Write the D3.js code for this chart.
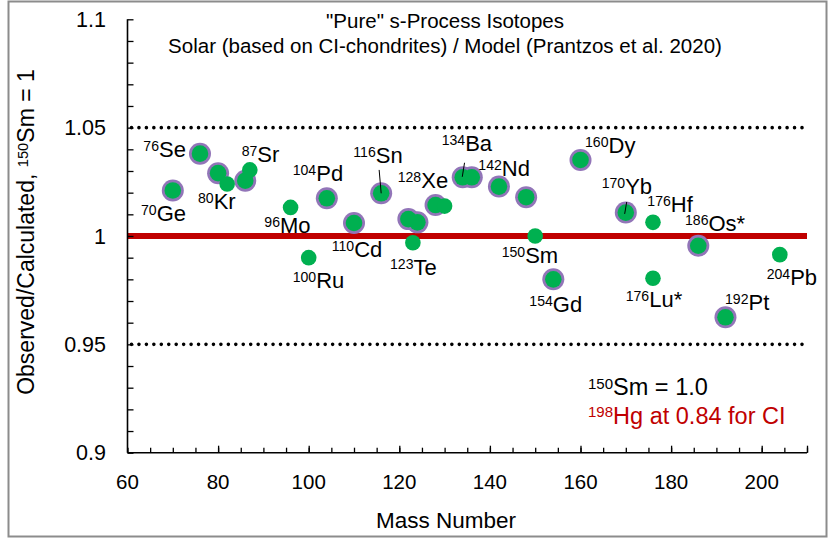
<!DOCTYPE html>
<html>
<head>
<meta charset="utf-8">
<script src="https://cdn.jsdelivr.net/npm/d3@7"></script>
<style>
  html, body { margin: 0; padding: 0; background: #fff; }
  svg text { font-family: "Liberation Sans", Arial, sans-serif; }
</style>
</head>
<body>
<svg id="chart" width="836" height="542"></svg>
<script>
// Isotopes whose markers carry the purple ring
const ringMass  = [70, 76, 80, 86, 104, 110, 116, 122, 124, 128, 134, 136, 142, 148, 154, 160, 170, 186, 192];
const ringRatio = [1.021, 1.038, 1.029, 1.0255, 1.0174, 1.006, 1.0197, 1.0078, 1.0063, 1.0143, 1.0271, 1.0271,
                   1.0228, 1.0179, 0.980, 1.0351, 1.0108, 0.9955, 0.9625];

// Isotopes drawn as plain green markers
const plainMass  = [82, 87, 96, 100, 123, 130, 150, 176, 176, 204];
const plainRatio = [1.024, 1.0305, 1.0132, 0.990, 0.9969, 1.0138, 1.000, 1.0063, 0.9805, 0.9914];

// Isotope labels: mass number (superscript) and element symbol
const labelMass   = ["70", "76", "80", "87", "96", "100", "104", "110", "116", "123", "128", "134", "142",
                     "150", "154", "160", "170", "176", "186", "176", "192", "204"];
const labelSymbol = ["Ge", "Se", "Kr", "Sr", "Mo", "Ru", "Pd", "Cd", "Sn", "Te", "Xe", "Ba", "Nd",
                     "Sm", "Gd", "Dy", "Yb", "Hf", "Os*", "Lu*", "Pt", "Pb"];
// Where each label sits, in axis units (mass, ratio) of its left edge / baseline
const labelAt = [[62.98, 1.0069], [63.49, 1.0365], [75.56, 1.0125], [85.21, 1.0343], [90.2, 1.0012],
                 [96.47, 0.9759], [96.47, 1.0254], [105.08, 0.9903], [109.85, 1.0338], [117.95, 0.982],
                 [119.65, 1.022], [129.36, 1.0391], [137.44, 1.0278], [142.6, 0.9877], [148.7, 0.9651],
                 [161.0, 1.0382], [164.68, 1.0194], [174.75, 1.0112], [183.07, 1.0023], [169.98, 0.9674],
                 [191.9, 0.9659], [201.1, 0.9774]];
// Short leader lines from a label down to its marker, in axis units
const leaders = [[[115.55, 1.0305], [116, 1.0197]],
                 [[134.4, 1.0338], [133.9, 1.0273]],
                 [[170.2, 1.0157], [169.75, 1.0102]]];

const xTicks = [60, 80, 100, 120, 140, 160, 180, 200];
const yTicks = [0.9, 0.95, 1, 1.05, 1.1];
const yTickText = ["0.9", "0.95", "1", "1.05", "1.1"];
const refLines = [1.05, 0.95];

const svg = d3.select("#chart");

// outer frame
svg.append("rect").attr("x", 8.5).attr("y", 1.5).attr("width", 818).attr("height", 535)
  .attr("fill", "#fff").attr("stroke", "#8c8c8c").attr("stroke-width", 2);

const x = d3.scaleLinear().domain([60, 210]).range([127.5, 807]);
const y = d3.scaleLinear().domain([0.9, 1.1]).range([452.7, 19.3]);

// superscripted text helper: small leading mass number, then the rest
function supText(sel, sup, rest, size) {
  sel.append("tspan").attr("font-size", size * 0.64).attr("dy", -size * 0.27).text(sup);
  sel.append("tspan").attr("dy", size * 0.27).text(rest);
}

// title
svg.append("text").attr("x", 445).attr("y", 28).attr("text-anchor", "middle")
  .attr("font-size", 20.5).text("\"Pure\" s-Process Isotopes");
svg.append("text").attr("x", 445).attr("y", 52.5).attr("text-anchor", "middle")
  .attr("font-size", 20.5).text("Solar (based on CI-chondrites) / Model (Prantzos et al. 2020)");

// dotted reference lines at ±5 %
svg.append("g").selectAll("line").data(refLines).join("line")
  .attr("x1", x(60) + 4).attr("x2", x(210))
  .attr("y1", d => y(d)).attr("y2", d => y(d))
  .attr("stroke", "#000").attr("stroke-width", 3.6)
  .attr("stroke-linecap", "round").attr("stroke-dasharray", "0 7.45");

// unity line
svg.append("line").attr("x1", x(60)).attr("x2", x(210)).attr("y1", y(1)).attr("y2", y(1))
  .attr("stroke", "#c00000").attr("stroke-width", 6);

// axes
const yAxis = d3.axisRight(y).tickValues(d3.range(0.9, 1.1001, 0.01)).tickSize(6).tickFormat("");
svg.append("g").attr("transform", `translate(${x(60)},0)`).call(yAxis)
  .call(g => g.select(".domain").attr("stroke", "#000").attr("stroke-width", 1.6).attr("d", `M0,${y(1.1)}V${y(0.9)}`))
  .call(g => g.selectAll(".tick line").attr("stroke", "#000").attr("stroke-width", 1.3));

const xMinor = d3.axisTop(x).tickValues(d3.range(60, 210.01, 5)).tickSize(5).tickFormat("");
svg.append("g").attr("transform", `translate(0,${y(0.9)})`).call(xMinor)
  .call(g => g.select(".domain").attr("stroke", "#000").attr("stroke-width", 1.6).attr("d", `M${x(60)},0H${x(210)}`))
  .call(g => g.selectAll(".tick line").attr("stroke", "#000").attr("stroke-width", 1.3));
const xMajor = d3.axisTop(x).tickValues(xTicks.slice(1).concat([210])).tickSize(7).tickFormat("");
svg.append("g").attr("transform", `translate(0,${y(0.9)})`).call(xMajor)
  .call(g => g.select(".domain").remove())
  .call(g => g.selectAll(".tick line").attr("stroke", "#000").attr("stroke-width", 1.3));

// tick labels
svg.append("g").selectAll("text").data(xTicks).join("text")
  .attr("x", d => x(d)).attr("y", 489).attr("text-anchor", "middle")
  .attr("font-size", 20.5).text(d => d);
svg.append("g").selectAll("text").data(yTicks).join("text")
  .attr("x", 106).attr("y", d => y(d) + 7.5).attr("text-anchor", "end")
  .attr("font-size", 21.5).text((d, i) => yTickText[i]);

// axis titles
svg.append("text").attr("x", 446).attr("y", 528).attr("text-anchor", "middle")
  .attr("font-size", 22.5).text("Mass Number");
const yt = svg.append("text").attr("transform", "translate(34,232) rotate(-90)")
  .attr("text-anchor", "middle").attr("font-size", 23);
yt.append("tspan").text("Observed/Calculated, ");
supText(yt, "150", "Sm = 1", 23);

// markers: purple ring underlay, green cores, then plain green markers
const ring = ringMass.map((m, i) => [m, ringRatio[i]]);
const plain = plainMass.map((m, i) => [m, plainRatio[i]]);
svg.append("g").selectAll("circle").data(ring).join("circle")
  .attr("cx", d => x(d[0])).attr("cy", d => y(d[1])).attr("r", 11).attr("fill", "#9275b8");
svg.append("g").selectAll("circle").data(ring).join("circle")
  .attr("cx", d => x(d[0])).attr("cy", d => y(d[1])).attr("r", 8.3).attr("fill", "#00b050");
svg.append("g").selectAll("circle").data(plain).join("circle")
  .attr("cx", d => x(d[0])).attr("cy", d => y(d[1])).attr("r", 7.8).attr("fill", "#00b050");

// leader lines
svg.append("g").selectAll("line").data(leaders).join("line")
  .attr("x1", d => x(d[0][0])).attr("y1", d => y(d[0][1]))
  .attr("x2", d => x(d[1][0])).attr("y2", d => y(d[1][1]))
  .attr("stroke", "#000").attr("stroke-width", 1);

// isotope labels
svg.append("g").selectAll("text").data(labelSymbol).join("text")
  .attr("x", (d, i) => x(labelAt[i][0])).attr("y", (d, i) => y(labelAt[i][1]))
  .attr("font-size", 22)
  .each(function (d, i) { supText(d3.select(this), labelMass[i], d, 22); });

// normalisation note
const n1 = svg.append("text").attr("x", 588).attr("y", 395).attr("font-size", 23.5);
supText(n1, "150", "Sm = 1.0", 23.5);
const n2 = svg.append("text").attr("x", 588).attr("y", 423.5).attr("font-size", 23.5).attr("fill", "#c00000");
supText(n2, "198", "Hg at 0.84 for CI", 23.5);
</script>
</body>
</html>
